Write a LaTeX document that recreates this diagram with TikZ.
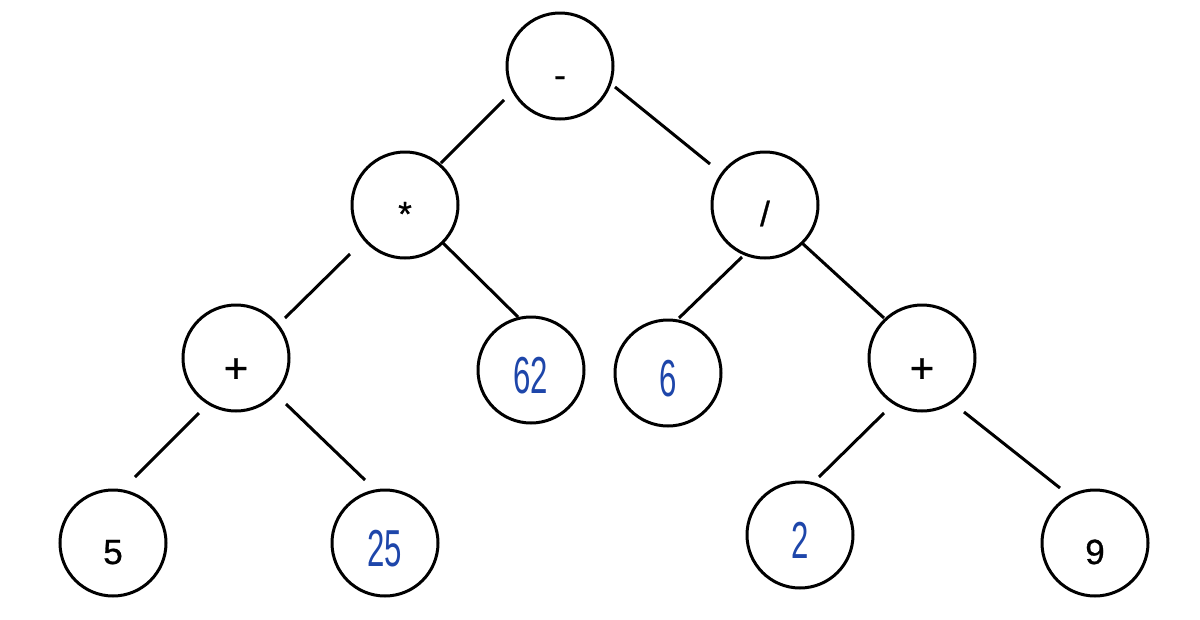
\documentclass[tikz,border=0pt]{standalone}
\usepackage{fontspec}
\usepackage{graphicx}
\usetikzlibrary{calc}
\setmainfont{Liberation Sans}
\newfontfamily\labelfont{Liberation Sans}[FakeBold=0.8]
\definecolor{ink}{RGB}{30,70,170}
\newcommand{\handnum}[1]{\scalebox{0.6}[1]{#1}}
\begin{document}
\begin{tikzpicture}[x=1pt,y=-1pt,
  tn/.style={circle,draw=black,line width=3pt,minimum size=106pt,inner sep=0pt,
    font=\labelfont\fontsize{35}{40}\selectfont,text height=42pt,text depth=0pt},
  op/.style={font=\labelfont\fontsize{42}{48}\selectfont,text height=49pt},
  hw/.style={text=ink,font=\fontsize{52}{60}\selectfont,text height=46pt},
  edge/.style={line width=3pt}]
\useasboundingbox (0,0) rectangle (1200,619);
\node[tn] (root) at (560,66) {-};
\node[tn] (mul) at (405,205) {*};
\node[tn] (dv) at (765,205) {/};
\node[tn,op] (pl) at (236,358) {+};
\node[tn,hw] (n62) at (531,370) {\handnum{62}};
\node[tn,hw] (n6) at (668,373) {\handnum{6}};
\node[tn,op] (pr) at (922,358) {+};
\node[tn] (n5) at (113,543) {5};
\node[tn,hw] (n25) at (385,543) {\handnum{25}};
\node[tn,hw] (n2) at (800,535) {\handnum{2}};
\node[tn] (n9) at (1095,543) {9};
\draw[edge] ($(root)+(-56,34)$) -- ($(mul)+(36,-42)$);
\draw[edge] ($(root)+(55,21)$) -- ($(dv)+(-55,-41)$);
\draw[edge] ($(mul)+(-55,49)$) -- ($(pl)+(49,-40)$);
\draw[edge] ($(mul)+(37,37)$) -- ($(n62)+(-13,-53)$);
\draw[edge] ($(dv)+(-23,52)$) -- ($(n6)+(11,-55)$);
\draw[edge] ($(dv)+(37,38)$) -- ($(pr)+(-38,-40)$);
\draw[edge] ($(pl)+(-37,55)$) -- ($(n5)+(22,-66)$);
\draw[edge] ($(pl)+(50,46)$) -- ($(n25)+(-20,-63)$);
\draw[edge] ($(pr)+(-38,55)$) -- ($(n2)+(19,-58)$);
\draw[edge] ($(pr)+(42,54)$) -- ($(n9)+(-35,-55)$);
\end{tikzpicture}
\end{document}
